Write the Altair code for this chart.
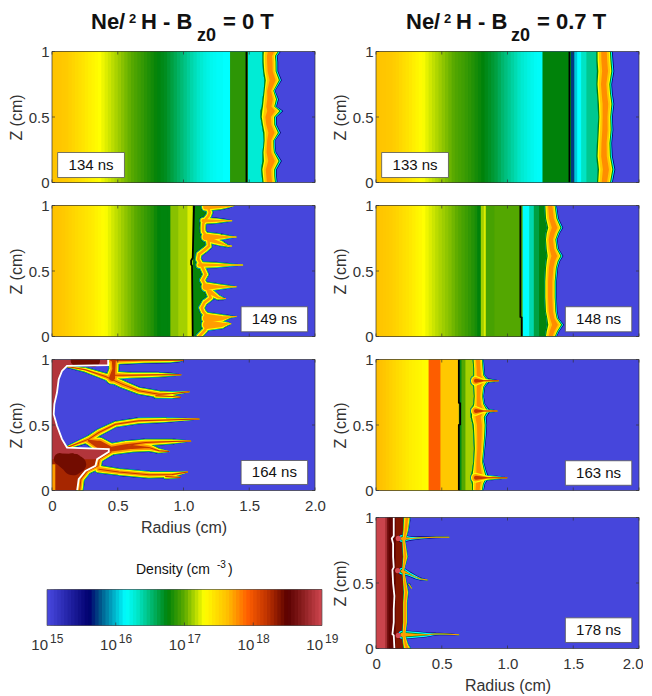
import altair as alt
import pandas as pd

# colormap (log10 density -> colour)
cmap_levels = [15.0, 15.59, 15.76, 16.12, 16.29, 16.73, 16.97, 17.26, 17.6, 17.89, 18.18, 18.47, 18.66, 19.0]
cmap_colors = ["#4646dc", "#00006e", "#005a8c", "#00ffff", "#00e6c8", "#00820a", "#5aaa00", "#ffff00",
               "#ffbe00", "#ff5f00", "#be3200", "#5a0000", "#821919", "#d74b55"]

radius_ticks = [0, 0.5, 1, 1.5, 2]
z_ticks = [0, 0.5, 1]
bar_ticks = [16, 17, 18]
bar_labels = [15, 16, 17, 18, 19]
bar_cells = [15.0, 15.05, 15.1, 15.15, 15.2, 15.25, 15.3, 15.35, 15.4, 15.45, 15.5, 15.55, 15.6, 15.65, 15.7, 15.75,
             15.8, 15.85, 15.9, 15.95, 16.0, 16.05, 16.1, 16.15, 16.2, 16.25, 16.3, 16.35, 16.4, 16.45, 16.5, 16.55,
             16.6, 16.65, 16.7, 16.75, 16.8, 16.85, 16.9, 16.95, 17.0, 17.05, 17.1, 17.15, 17.2, 17.25, 17.3, 17.35,
             17.4, 17.45, 17.5, 17.55, 17.6, 17.65, 17.7, 17.75, 17.8, 17.85, 17.9, 17.95, 18.0, 18.05, 18.1, 18.15,
             18.2, 18.25, 18.3, 18.35, 18.4, 18.45, 18.5, 18.55, 18.6, 18.65, 18.7, 18.75, 18.8, 18.85, 18.9, 18.95,
             19.0]

# radial profiles: cell edges and log10 density of each cell
ramp = [0, .025, .05, .075, .1, .125, .15, .175, .2, .225, .25, .275, .3, .325, .35, .375, .4, .425, .45, .475, .5,
        .525, .55, .575, .6, .625, .65, .675, .7, .725, .75, .775, .8, .825, .85, .875, .9, .925, .95, .975, 1.0,
        1.025, 1.05, 1.075, 1.1, 1.125, 1.15, 1.175, 1.2, 1.225, 1.25]

edges_134 = ramp + [1.3, 1.354, 1.49, 1.65]
dens_134 = [17.57, 17.565, 17.56, 17.545, 17.53, 17.505, 17.48, 17.455, 17.43, 17.40, 17.37, 17.34, 17.31, 17.285,
            17.26, 17.23, 17.2, 17.17, 17.14, 17.11, 17.08, 17.05, 17.02, 16.99, 16.96, 16.93, 16.9, 16.87, 16.84,
            16.81, 16.78, 16.75, 16.72, 16.70, 16.68, 16.64, 16.6, 16.56, 16.52, 16.48, 16.44, 16.40, 16.36, 16.325,
            16.29, 16.255, 16.22, 16.195, 16.17, 16.155, 16.14, 16.12, 16.85, 16.25]
black_z_134 = [0, 1]
black_r_134 = [1.479, 1.479]
front_z_134 = [0, .05, .1, .165, .23, .27, .32, .38, .44, .5, .545, .58, .635, .70, .78, .85, .92, .965, 1]
front_out_134 = [1.715, 1.71, 1.71, 1.748, 1.705, 1.70, 1.698, 1.741, 1.71, 1.71, 1.759, 1.71, 1.725, 1.698, 1.748, 1.72, 1.72, 1.715, 1.741]
front_in_134 = [1.60, 1.595, 1.59, 1.60, 1.60, 1.605, 1.61, 1.605, 1.595, 1.585, 1.585, 1.595, 1.60, 1.61, 1.615, 1.605, 1.60, 1.60, 1.60]

edges_133 = ramp + [1.266, 1.482, 1.508, 1.53, 1.56, 1.6, 1.7]
dens_133 = [17.57, 17.565, 17.56, 17.55, 17.54, 17.52, 17.5, 17.47, 17.44, 17.41, 17.38, 17.345, 17.31, 17.28, 17.25,
            17.215, 17.18, 17.15, 17.12, 17.09, 17.06, 17.03, 17.0, 16.97, 16.94, 16.92, 16.9, 16.875, 16.85, 16.82,
            16.79, 16.76, 16.73, 16.70, 16.67, 16.635, 16.6, 16.55, 16.5, 16.46, 16.42, 16.38, 16.34, 16.3, 16.26,
            16.23, 16.2, 16.175, 16.15, 16.14, 16.13, 16.73, 15.7, 16.0, 16.12, 16.3, 16.42]
black_z_133 = [0, 1]
black_r_133 = [1.47, 1.47]
front_z_133 = [0, .1, .2, .3, .4, .5, .6, .68, .75, .85, .93, 1]
front_out_133 = [1.80, 1.82, 1.80, 1.795, 1.805, 1.80, 1.812, 1.80, 1.795, 1.812, 1.805, 1.80]
front_in_133 = [1.68, 1.685, 1.675, 1.68, 1.685, 1.69, 1.685, 1.68, 1.675, 1.68, 1.675, 1.675]

edges_149 = ramp[:37] + [.96, 1.03, 1.075]
dens_149 = [17.58, 17.57, 17.56, 17.54, 17.52, 17.5, 17.48, 17.46, 17.44, 17.42, 17.4, 17.38, 17.36, 17.33, 17.3, 17.275,
            17.25, 17.215, 17.18, 17.15, 17.12, 17.09, 17.06, 17.03, 17.0, 16.97, 16.94, 16.91, 16.88, 16.85, 16.82,
            16.77, 16.73, 16.72, 16.72, 16.72, 17.05, 17.1, 17.2]
black_z_149 = [0, .54, .55, .58, .6, 1]
black_r_149 = [1.07, 1.065, 1.058, 1.058, 1.07, 1.08]
scallop_z_149 = [0, .05, .097, .153, .19, .219, .26, .296, .34, .385, .43, .474, .546, .59, .628, .66, .69, .73, .768, .8, .827, .86, .895, .92, .946, .975, 1]
scallop_r_149 = [1.118, 1.165, 1.182, 1.182, 1.15, 1.138, 1.16, 1.207, 1.19, 1.169, 1.145, 1.169, 1.136, 1.112, 1.118, 1.16, 1.194, 1.19, 1.174, 1.15, 1.148, 1.15, 1.169, 1.19, 1.2, 1.19, 1.174]
fingers_149 = [
    ([1.17, 1.28, 1.35, 1.385], [.99, .99, .995, 1.0], [10, 7, 4, 0]),
    ([1.15, 1.25, 1.33, 1.367], [.883, .883, .883, .883], [8, 6.5, 3.5, 0]),
    ([1.17, 1.27, 1.36, 1.40], [.76, .76, .76, .76], [11, 8, 3.5, 0]),
    ([1.2, 1.29, 1.34, 1.365], [.74, .71, .69, .69], [9, 6.5, 3.5, 0]),
    ([1.12, 1.25, 1.37, 1.45], [.546, .546, .546, .546], [8, 6.5, 3.5, 0]),
    ([1.17, 1.27, 1.36, 1.40], [.38, .38, .38, .38], [11, 7, 3.5, 0]),
    ([1.2, 1.26, 1.3, 1.32], [.34, .30, .29, .29], [9, 6.5, 3.5, 0]),
    ([1.18, 1.29, 1.36, 1.40], [.14, .14, .15, .153], [13, 9, 3.5, 0]),
    ([1.18, 1.29, 1.34, 1.36], [.09, .09, .097, .097], [13, 9, 4.5, 0]),
]

edges_148 = ramp[:31] + [.77, .797, .82, .835, .9, 1.115, 1.165, 1.2, 1.24, 1.3]
dens_148 = [17.57, 17.56, 17.55, 17.535, 17.52, 17.5, 17.48, 17.455, 17.43, 17.405, 17.38, 17.35, 17.32, 17.29, 17.26,
            17.23, 17.2, 17.17, 17.14, 17.115, 17.09, 17.065, 17.04, 17.01, 16.98, 16.95, 16.92, 16.89, 16.86, 16.825,
            16.79, 16.73, 17.1, 17.2, 16.92, 16.95, 16.12, 16.35, 16.6, 16.72]
black_z_148 = [0, .145, .15, 1]
black_r_148 = [1.108, 1.108, 1.098, 1.098]
front_z_148 = [0, .04, .09, .14, .19, .3, .42, .525, .575, .615, .67, .74, .79, .83, .9, 1]
front_out_148 = [1.375, 1.395, 1.43, 1.39, 1.38, 1.375, 1.375, 1.385, 1.40, 1.425, 1.39, 1.38, 1.40, 1.424, 1.39, 1.375]
front_in_148 = [1.285, 1.29, 1.30, 1.295, 1.285, 1.28, 1.28, 1.285, 1.29, 1.295, 1.29, 1.285, 1.29, 1.30, 1.285, 1.28]

edges_163 = ramp[:17] + [.49, .63, .65, .68, .74]
dens_163 = [17.6, 17.58, 17.56, 17.53, 17.5, 17.475, 17.45, 17.425, 17.4, 17.375, 17.35, 17.335, 17.32, 17.3, 17.28,
            17.27, 17.9, 17.55, 16.7, 16.95, 17.1]
black_z_163 = [0, .5, .505, .665, .67, 1]
black_r_163 = [.63, .63, .64, .64, .63, .63]
front_z_163 = [0, .05, .1, .15, .22, .32, .42, .5, .56, .607, .66, .72, .79, .837, .88, .93, 1]
front_out_163 = [.82, .83, .86, .84, .82, .83, .84, .845, .84, .87, .83, .82, .83, .87, .83, .825, .82]
front_in_163 = [.73, .73, .72, .73, .74, .745, .74, .735, .72, .72, .74, .745, .74, .73, .74, .74, .735]
fingers_163 = [
    ([.76, .85, .95, .995], [.097, .097, .097, .097], [12, 6, 3, 0]),
    ([.76, .82, .89, .92], [.607, .607, .607, .607], [12, 6, 3, 0]),
    ([.76, .82, .90, .93], [.837, .837, .837, .837], [12, 6, 3, 0]),
]

edges_178 = [0, .07, .085, .10, .13, .15, .215]
dens_178 = [18.95, 18.8, 18.55, 18.45, 18.45, 18.35]
white_z_178 = [0, .1, .11, .2, .3, .4, .5, .6, .62, .7, .8, .84, .86, 1]
white_r_178 = [.14, .135, .125, .135, .135, .14, .13, .125, .135, .13, .13, .12, .135, .135]
front_z_178 = [0, .03, .1, .2, .35, .43, .6, .7, .82, .9, 1]
front_out_178 = [.27, .25, .225, .24, .24, .25, .215, .245, .225, .25, .265]
front_in_178 = [.21, .205, .20, .205, .205, .21, .20, .205, .20, .205, .21]
blob_r_178 = [.17, .165, .17]
blob_z_178 = [.10, .595, .84]
fingers_178 = [
    ([.2, .27, .34, .45, .555], [.84, .84, .845, .85, .85], [8, 4, 3, 2, 0]),
    ([.2, .25, .3, .34, .39], [.59, .57, .545, .53, .523], [8, 5, 4, 3, 0]),
    ([.2, .3, .38, .45, .52, .63], [.105, .105, .105, .11, .11, .105], [9, 7, 5, 3, 2, 0]),
    ([.25, .27], [.49, .46], [3, 0]),
]

white_z_164 = [0, .087, .15, .188, .239, .295, .316, .328, .392, .494, .583, .659, .748, .85, .913, .952, .957, 1]
white_r_164 = [.191, .203, .254, .33, .343, .432, .432, .114, .076, .038, .013, .018, .038, .051, .076, .114, .427, .427]
fingers_164 = [
    ([.45, .7, .9, .97, 1.0], [.995, .995, .995, .995, .995], [10, 7, 6, 4, 0]),
    ([.48, .6, .81, .91, .98], [.88, .88, .883, .883, .883], [9, 7, 6, 4, 0]),
    ([.47, .47, .457], [1, .925, .86], [12, 11, 14]),
    ([.114, .254, .407, .534, .66, .813, .915, 1.042], [.947, .921, .87, .812, .761, .735, .74, .753], [3, 6, 8, 9, 8, 8, 5, 0]),
    ([.79, .915, .978], [.723, .718, .71], [6, 5, 0]),
    ([.114, .28, .356, .483, .66, .864, 1.118], [.328, .392, .443, .506, .532, .539, .545], [4, 8, 8, 7, 7, 6, 0]),
    ([.432, .559, .712, .915, 1.055], [.316, .346, .366, .374, .377], [12, 10, 8, 6, 0]),
    ([.432, .61, .737, .813, .889], [.31, .333, .328, .303, .298], [12, 12, 9, 6, 0]),
    ([.28, .36, .43], [.38, .35, .32], [10, 16, 14]),
    ([.356, .508, .737, .915, 1.03], [.163, .142, .12, .122, .142], [9, 8, 8, 7, 0]),
    ([.864, .978], [.107, .099], [6, 0]),
    ([.45, .36, .35, .27, .22, .21], [.295, .239, .188, .15, .087, 0], [8, 8, 8, 8, 8, 8]),
]

# nested contour levels: density, inset of the stroke in px
trail_levels = [(15.55, 0), (16.12, .6), (16.73, 1.2), (17.26, 2), (17.7, 4.5), (18.15, 8)]
thin_levels = [(15.55, 0), (16.12, 1.2), (16.73, 3.5), (17.7, 5)]
# density, fraction in from inner edge, fraction in from outer edge
band_levels = [(15.6, 0, 0), (16.15, 0, .05), (16.73, 0, .11), (17.26, .08, .17), (17.55, .16, .24), (17.75, .3, .36)]

FONT = "Liberation Sans"
INK = "#333333"
W = 263
H = 131
XS = alt.Scale(domain=[0, 2], nice=False)
YS = alt.Scale(domain=[0, 1], nice=False)
COLOR = alt.Color("n:Q", scale=alt.Scale(domain=cmap_levels, range=cmap_colors, interpolate="rgb"), legend=None)
X_STYLE = dict(values=radius_ticks, title="Radius (cm)", ticks=False, domain=False, grid=False,
               labelFontSize=15, labelColor=INK, labelPadding=8, titleFontSize=16, titleColor=INK,
               titleFontWeight="normal", titlePadding=6, labelOverlap=False,
               labelExpr="datum.value == 0 ? '0' : format(datum.value, '.1f')")
X_AXIS = alt.Axis(labelFlush=False, **X_STYLE)
X_AXIS_EDGE = alt.Axis(labelFlush=True, labelFlushOffset=4, **X_STYLE)
Y_AXIS = alt.Axis(values=z_ticks, title="Z (cm)", ticks=False, domain=False, grid=False, labelFontSize=15,
                  labelColor=INK, labelPadding=3, titleFontSize=16, titleColor=INK, titleFontWeight="normal",
                  titlePadding=4, labelFlush=False, labelOverlap=False, labelExpr="format(datum.value, '~g')")


def rects(r1, r2, z1, z2, n, ys=YS):
    df = pd.DataFrame({"r1": r1, "r2": r2, "z1": z1, "z2": z2, "n": n})
    return alt.Chart(df).mark_rect().encode(
        x=alt.X("r1:Q", scale=XS), x2="r2:Q", y=alt.Y("z1:Q", scale=ys), y2="z2:Q", color=COLOR)


def background(ys=YS):
    return rects([0], [2], [0], [1], [15.0], ys)


def profile(edges, dens, ys=YS):
    # every cell runs to the last edge and is painted over by the next, so no seams show
    n_cells = len(dens)
    return rects(edges[:-1], [edges[-1]] * n_cells, [0] * n_cells, [1] * n_cells, dens, ys)


def area(r1, r2, z, n, ys=YS):
    df = pd.DataFrame({"r1": r1, "r2": r2, "z": z, "n": n})
    return alt.Chart(df).mark_area(orient="horizontal", clip=True).encode(
        x=alt.X("r1:Q", scale=XS), x2="r2:Q", y=alt.Y("z:Q", scale=ys), color=COLOR)


def band(r_in, r_out, z, ys=YS):
    out = []
    for n, a, b in band_levels:
        left = [p + a * (q - p) for p, q in zip(r_in, r_out)]
        right = [q - b * (q - p) for p, q in zip(r_in, r_out)]
        out.append(area(left, right, z, n, ys))
    return out


def trails(fingers, levels=trail_levels, ys=YS):
    out = []
    for n, inset in levels:
        rows = []
        for k, (rs, zs, ws) in enumerate(fingers):
            for i in range(len(rs)):
                rows.append({"r": rs[i], "z": zs[i], "w": max(ws[i] - inset, 0), "f": k, "i": i, "n": n})
        out.append(alt.Chart(pd.DataFrame(rows)).mark_trail(clip=True).encode(
            x=alt.X("r:Q", scale=XS), y=alt.Y("z:Q", scale=ys),
            size=alt.Size("w:Q", scale=None), detail="f:N", order="i:Q", color=COLOR))
    return out


def contour(rs, zs, color, width, ys=YS):
    df = pd.DataFrame({"r": rs, "z": zs, "i": range(len(zs))})
    return alt.Chart(df).mark_line(color=color, strokeWidth=width, clip=True).encode(
        x=alt.X("r:Q", scale=XS), y=alt.Y("z:Q", scale=ys), order="i:Q")


def frame(label, r1, r2, z1, z2, height=H, ys=YS):
    # inward ticks, box and the time stamp
    border = alt.Chart(pd.DataFrame({"r1": [0], "r2": [2], "z1": [0], "z2": [1]})).mark_rect(
        filled=False, stroke=INK, strokeWidth=0.7).encode(
        x=alt.X("r1:Q", scale=XS), x2="r2:Q", y=alt.Y("z1:Q", scale=ys), y2="z2:Q")
    r_df = pd.DataFrame({"r": radius_ticks})
    z_df = pd.DataFrame({"z": z_ticks})
    top = height - H
    ticks = []
    for a, b in [(height, height - 3), (top, top + 3)]:
        ticks.append(alt.Chart(r_df).mark_rule(color=INK, strokeWidth=0.7).encode(
            x=alt.X("r:Q", scale=XS), y=alt.value(a), y2=alt.value(b)))
    for a, b in [(0, 3), (W, W - 3)]:
        ticks.append(alt.Chart(z_df).mark_rule(color=INK, strokeWidth=0.7).encode(
            y=alt.Y("z:Q", scale=ys), x=alt.value(a), x2=alt.value(b)))
    box_df = pd.DataFrame({"r1": [r1], "r2": [r2], "z1": [z1], "z2": [z2], "rc": [(r1 + r2) / 2], "zc": [(z1 + z2) / 2], "t": [label]})
    box = alt.Chart(box_df).mark_rect(fill="white", stroke="#555555", strokeWidth=0.8).encode(
        x=alt.X("r1:Q", scale=XS), x2="r2:Q", y=alt.Y("z1:Q", scale=ys), y2="z2:Q")
    stamp = alt.Chart(box_df).mark_text(fontSize=15, font=FONT, color="#111111").encode(
        x=alt.X("rc:Q", scale=XS), y=alt.Y("zc:Q", scale=ys), text="t:N")
    return [border] + ticks + [box, stamp]


def piece(text, x, y, size, bold=True):
    return alt.Chart(pd.DataFrame({"t": [text]})).mark_text(
        font=FONT, fontSize=size, fontWeight="bold" if bold else "normal", align="left",
        baseline="alphabetic", color="#111111").encode(x=alt.value(x), y=alt.value(y), text="t:N")


def title(parts):
    return [piece(*p) for p in parts]


left_title = [("Ne/", 39, -23, 22), ("2", 77, -29, 13), ("H - B", 89, -23, 22), ("z0", 145, -11, 18), ("= 0 T", 171, -23, 22)]
right_title = [("Ne/", 30, -23, 22), ("2", 68, -29, 13), ("H - B", 80, -23, 22), ("z0", 135, -11, 18), ("= 0.7 T", 161, -23, 22)]


def panel(*layers, height=H, x_axis=None):
    # layers must agree on the axis or the merged one disappears
    flat = []
    for item in layers:
        flat += item if isinstance(item, list) else [item]
    for item in flat:
        if isinstance(item.encoding.x, alt.X):
            item.encoding.x.axis = x_axis
        if isinstance(item.encoding.y, alt.Y):
            item.encoding.y.axis = Y_AXIS
    return alt.layer(*flat).properties(width=W, height=height)


p134 = panel(background(), profile(edges_134, dens_134), contour(black_r_134, black_z_134, "black", 1.8),
             band(front_in_134, front_out_134, front_z_134),
             frame("134 ns", .043, .551, .038, .229), title(left_title))

p133 = panel(background(), profile(edges_133, dens_133), contour(black_r_133, black_z_133, "black", 1.5),
             band(front_in_133, front_out_133, front_z_133),
             frame("133 ns", .043, .551, .038, .229), title(right_title))

scallop = [(scallop_r_149, scallop_z_149, [7] * len(scallop_z_149))]
p149 = panel(background(), profile(edges_149, dens_149),
             area([1.07] * len(scallop_z_149), scallop_r_149, scallop_z_149, 16.75),
             trails(scallop + fingers_149, trail_levels[:5]),
             contour(black_r_149, black_z_149, "black", 1.8),
             frame("149 ns", 1.438, 1.944, .036, .227))

p148 = panel(background(), profile(edges_148, dens_148), band(front_in_148, front_out_148, front_z_148),
             contour(black_r_148, black_z_148, "black", 1.8),
             frame("148 ns", 1.44, 1.945, .036, .227))

red_r = [0] * len(white_z_164)
low = 5
dark_blobs = [([.06, .16, .2], [.24, .2, .2], [12, 22, 16]), ([.18, .32], [.99, .99], [10, 12])]
p164 = panel(background(), trails(fingers_164),
             area(red_r, white_r_164, white_z_164, 18.85),
             area(red_r[:low], white_r_164[:low], white_z_164[:low], 18.25),
             trails(dark_blobs, [(18.4, 0)]),
             rects([0], [.025], [0], [.2], [17.7]),
             contour(white_r_164, white_z_164, "white", 1.8),
             frame("164 ns", 1.438, 1.944, .046, .229), x_axis=X_AXIS)

# outer contours of the fingers go under the band, the core over it
p163 = panel(background(), profile(edges_163, dens_163), trails(fingers_163, trail_levels[:3]),
             band(front_in_163, front_out_163, front_z_163),
             trails(fingers_163, trail_levels[3:]), contour(black_r_163, black_z_163, "black", 1.8),
             frame("163 ns", 1.44, 1.945, .04, .227))

HQ = 135
YQ = alt.Scale(domain=[0, 1], nice=False, range=[HQ, HQ - H])
blobs = alt.Chart(pd.DataFrame({"r": blob_r_178, "z": blob_z_178, "n": [19, 19, 19]})).mark_circle(size=28, opacity=1).encode(
    x=alt.X("r:Q", scale=XS), y=alt.Y("z:Q", scale=YQ), color=COLOR)
p178 = panel(background(YQ), profile(edges_178, dens_178, YQ), trails(fingers_178, thin_levels[:3], YQ),
             band(front_in_178, front_out_178, front_z_178, YQ),
             trails(fingers_178, thin_levels[3:], YQ), blobs, contour(white_r_178, white_z_178, "white", 1.8, YQ),
             frame("178 ns", 1.44, 1.945, .046, .234, height=HQ, ys=YQ), height=HQ, x_axis=X_AXIS_EDGE)

# colorbar
BX = alt.Scale(domain=[15, 19], nice=False, range=[-5, 270])
bar_df = pd.DataFrame({"a": bar_cells[:-1], "b": [19.0] * (len(bar_cells) - 1), "n": bar_cells[:-1]})
bar = alt.Chart(bar_df).mark_rect().encode(
    x=alt.X("a:Q", scale=BX, axis=None), x2="b:Q", y=alt.value(76), y2=alt.value(112), color=COLOR)
bar_box = alt.Chart(pd.DataFrame({"a": [15], "b": [19]})).mark_rect(filled=False, stroke="#555555", strokeWidth=0.7).encode(
    x=alt.X("a:Q", scale=BX, axis=None), x2="b:Q", y=alt.value(76), y2=alt.value(112))
bar_tick = alt.Chart(pd.DataFrame({"a": bar_ticks})).mark_rule(color=INK, strokeWidth=0.7).encode(
    x=alt.X("a:Q", scale=BX, axis=None), y=alt.value(112), y2=alt.value(109))
lab_df = pd.DataFrame({"a": bar_labels, "ten": ["10"] * 5, "e": [str(v) for v in bar_labels]})
bar_ten = alt.Chart(lab_df).mark_text(font=FONT, fontSize=15, color=INK, align="right", baseline="alphabetic", dx=1).encode(
    x=alt.X("a:Q", scale=BX, axis=None), y=alt.value(136), text="ten:N")
bar_exp = alt.Chart(lab_df).mark_text(font=FONT, fontSize=12, color=INK, align="left", baseline="alphabetic", dx=3).encode(
    x=alt.X("a:Q", scale=BX, axis=None), y=alt.value(129), text="e:N")
bar_panel = alt.layer(bar, bar_box, bar_tick, bar_ten, bar_exp,
                      piece("Density (cm", 84, 60, 14, False), piece("-3", 165, 54, 10, False), piece(")", 176, 60, 14, False)
                      ).properties(width=W, height=HQ)

chart = alt.concat(p134, p133, p149, p148, p164, p163, bar_panel, p178, columns=2,
                   spacing={"row": 23, "column": 61}, bounds="flush").properties(
    padding={"left": 0, "top": 2.5, "right": 0, "bottom": 0}
).configure(font=FONT).configure_view(stroke=None)

chart.save("out.html", embed_options={"renderer": "svg", "actions": False})
